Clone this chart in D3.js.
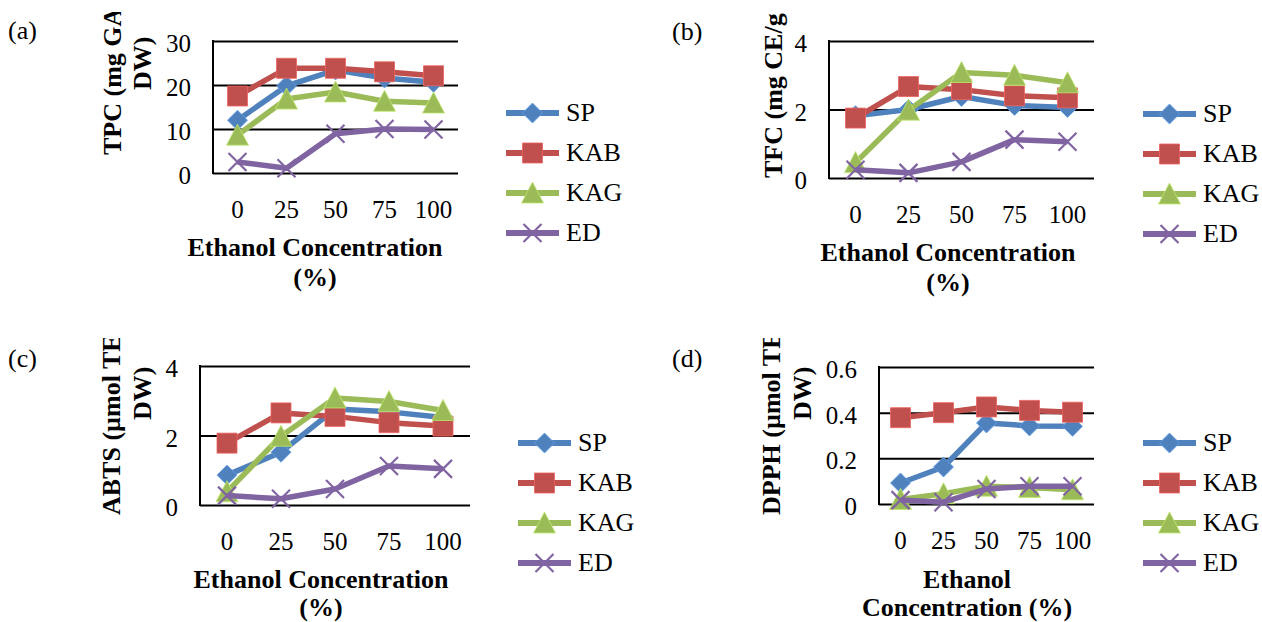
<!DOCTYPE html>
<html>
<head>
<meta charset="utf-8">
<script src="https://cdn.jsdelivr.net/npm/d3@7"></script>
<style>
  body { margin: 0; background: #fff; }
  svg { display: block; }
</style>
</head>
<body>
<svg width="1262" height="622"></svg>
<script>
const svg = d3.select("svg");

const cats = ["0", "25", "50", "75", "100"];
const seriesNames = ["SP", "KAB", "KAG", "ED"];
const colors = ["#4F81BD", "#C0504D", "#9BBB59", "#8064A2"];

// (a) TPC
const tpcSP  = [12.0, 19.8, 23.4, 21.6, 20.6];
const tpcKAB = [17.5, 23.8, 23.8, 23.0, 22.1];
const tpcKAG = [8.6, 16.8, 18.4, 16.3, 15.9];
const tpcED  = [2.5, 1.1, 8.9, 10.0, 9.9];
// (b) TFC
const tfcSP  = [1.82, 2.0, 2.38, 2.12, 2.06];
const tfcKAB = [1.75, 2.67, 2.58, 2.4, 2.34];
const tfcKAG = [0.45, 1.98, 3.08, 3.0, 2.78];
const tfcED  = [0.24, 0.15, 0.47, 1.12, 1.06];
// (c) ABTS
const abtsSP  = [0.86, 1.52, 2.76, 2.68, 2.52];
const abtsKAB = [1.78, 2.65, 2.55, 2.37, 2.27];
const abtsKAG = [0.38, 1.98, 3.08, 2.98, 2.72];
const abtsED  = [0.27, 0.18, 0.46, 1.12, 1.04];
// (d) DPPH
const dpphSP  = [0.092, 0.162, 0.355, 0.342, 0.34];
const dpphKAB = [0.378, 0.4, 0.425, 0.41, 0.402];
const dpphKAG = [0.02, 0.045, 0.078, 0.072, 0.062];
const dpphED  = [0.017, 0.008, 0.066, 0.078, 0.078];

const panels = [
  {label: "(a)", labelPos: [8, 39], values: [tpcSP, tpcKAB, tpcKAG, tpcED],
   yMax: 30, yTicks: [0, 10, 20, 30], fmt: d3.format("d"),
   box: {x0: 213, x1: 458, y0: 41, y1: 173}, clipY: 12,
   yTitle: [{t: "TPC (mg GAE/g", x: 121, y: 155}, {t: "DW)", x: 151, y: 90}],
   xTitle: [{t: "Ethanol Concentration", x: 315, y: 256}, {t: "(%)", x: 315, y: 286}],
   legend: {x0: 506, x1: 559, tx: 566, y: 113}},
  {label: "(b)", labelPos: [672, 40], values: [tfcSP, tfcKAB, tfcKAG, tfcED],
   yMax: 4, yTicks: [0, 2, 4], fmt: d3.format("d"),
   box: {x0: 829, x1: 1094, y0: 41, y1: 178}, clipY: 12,
   yTitle: [{t: "TFC (mg CE/g DW)", x: 782, y: 178}],
   xTitle: [{t: "Ethanol Concentration", x: 948, y: 261}, {t: "(%)", x: 948, y: 291}],
   legend: {x0: 1143, x1: 1196, tx: 1203, y: 114}},
  {label: "(c)", labelPos: [8, 367], values: [abtsSP, abtsKAB, abtsKAG, abtsED],
   yMax: 4, yTicks: [0, 2, 4], fmt: d3.format("d"),
   box: {x0: 200, x1: 470, y0: 366, y1: 505}, clipY: 338,
   yTitle: [{t: "ABTS (µmol TE/g", x: 120, y: 515}, {t: "DW)", x: 151, y: 420}],
   xTitle: [{t: "Ethanol Concentration", x: 321, y: 588}, {t: "(%)", x: 321, y: 616}],
   legend: {x0: 518, x1: 571, tx: 578, y: 443}},
  {label: "(d)", labelPos: [672, 367], values: [dpphSP, dpphKAB, dpphKAG, dpphED],
   yMax: 0.6, yTicks: [0, 0.2, 0.4, 0.6], fmt: d => d === 0 ? "0" : d3.format(".1f")(d),
   box: {x0: 879, x1: 1094, y0: 367, y1: 504}, clipY: 338,
   yTitle: [{t: "DPPH (µmol TE/g", x: 780, y: 515}, {t: "DW)", x: 811, y: 420}],
   xTitle: [{t: "Ethanol", x: 967, y: 588}, {t: "Concentration (%)", x: 967, y: 616}],
   legend: {x0: 1143, x1: 1196, tx: 1203, y: 443}}
];

const FONT = "'Liberation Serif', 'Times New Roman', serif";

function markerPath(i) {
  if (i == 0) return "M0,-10L10,0L0,10L-10,0Z";
  if (i == 1) return "M-10,-10H10V10H-10Z";
  if (i == 2) return "M0,-11L11,10H-11Z";
  return "M-9,-9L9,9M9,-9L-9,9";
}

function drawMarker(sel, i) {
  if (i == 3) {
    sel.append("path").attr("d", markerPath(i))
      .attr("fill", "none").attr("stroke", colors[i]).attr("stroke-width", 2.2);
  } else {
    sel.append("path").attr("d", markerPath(i))
      .attr("fill", colors[i]).attr("stroke", d3.color(colors[i]).brighter(0.6)).attr("stroke-width", 0.8);
  }
}

svg.append("rect").attr("width", 1262).attr("height", 622).attr("fill", "#fff");

panels.forEach((p, pi) => {
  const g = svg.append("g");
  const b = p.box;

  const x = d3.scaleBand().domain(cats).range([b.x0, b.x1]);
  const y = d3.scaleLinear().domain([0, p.yMax]).range([b.y1, b.y0]);

  g.append("text").attr("x", p.labelPos[0]).attr("y", p.labelPos[1])
    .attr("font-family", FONT).attr("font-size", 26).text(p.label);

  // gridlines + y labels
  const ya = g.append("g").attr("transform", `translate(${b.x0},0)`)
    .call(d3.axisLeft(y).tickValues(p.yTicks).tickSize(-(b.x1 - b.x0)).tickPadding(22).tickFormat(p.fmt));
  ya.select(".domain").remove();
  ya.selectAll(".tick line").attr("stroke", "#000").attr("stroke-width", 2);
  ya.selectAll(".tick text").attr("font-family", FONT).attr("font-size", 25)
    .attr("fill", "#000").attr("dy", "0.42em");

  g.append("line").attr("x1", b.x0).attr("x2", b.x0).attr("y1", b.y0 - 1).attr("y2", b.y1 + 1)
    .attr("stroke", "#000").attr("stroke-width", 2);

  // x labels
  const xa = g.append("g").attr("transform", `translate(0,${b.y1})`)
    .call(d3.axisBottom(x).tickSize(0).tickPadding(0));
  xa.select(".domain").remove();
  xa.selectAll(".tick text").attr("font-family", FONT).attr("font-size", 25)
    .attr("fill", "#000").attr("dy", 0).attr("y", 45);

  // y title, cut at the top like in the original figure
  const clipId = "clip" + pi;
  svg.append("clipPath").attr("id", clipId).append("rect")
    .attr("x", 0).attr("y", p.clipY).attr("width", 1262).attr("height", 622);
  const yt = g.append("g").attr("clip-path", `url(#${clipId})`);
  p.yTitle.forEach(t => {
    yt.append("text").attr("transform", `translate(${t.x},${t.y}) rotate(-90)`)
      .attr("font-family", FONT).attr("font-size", 26).attr("font-weight", "bold")
      .text(t.t);
  });

  p.xTitle.forEach(t => {
    g.append("text").attr("x", t.x).attr("y", t.y).attr("text-anchor", "middle")
      .attr("font-family", FONT).attr("font-size", 26).attr("font-weight", "bold")
      .text(t.t);
  });

  const line = d3.line().x((d, i) => x(cats[i]) + x.bandwidth() / 2).y(d => y(d));

  p.values.forEach((vals, si) => {
    const sg = g.append("g");
    sg.append("path").datum(vals).attr("d", line)
      .attr("fill", "none").attr("stroke", colors[si]).attr("stroke-width", 5.5)
      .attr("stroke-linejoin", "round");
    sg.selectAll("g.m").data(vals).enter().append("g").attr("class", "m")
      .attr("transform", (d, i) => `translate(${x(cats[i]) + x.bandwidth() / 2},${y(d)})`)
      .each(function() { drawMarker(d3.select(this), si); });
  });

  // legend
  const L = p.legend;
  seriesNames.forEach((name, si) => {
    const ly = L.y + si * 40;
    const lg = g.append("g");
    lg.append("line").attr("x1", L.x0).attr("x2", L.x1).attr("y1", ly).attr("y2", ly)
      .attr("stroke", colors[si]).attr("stroke-width", 6);
    const mg = lg.append("g").attr("transform", `translate(${(L.x0 + L.x1) / 2},${ly})`);
    drawMarker(mg, si);
    lg.append("text").attr("x", L.tx).attr("y", ly).attr("dy", "0.3em")
      .attr("font-family", FONT).attr("font-size", 26).text(name);
  });
});
</script>
</body>
</html>
